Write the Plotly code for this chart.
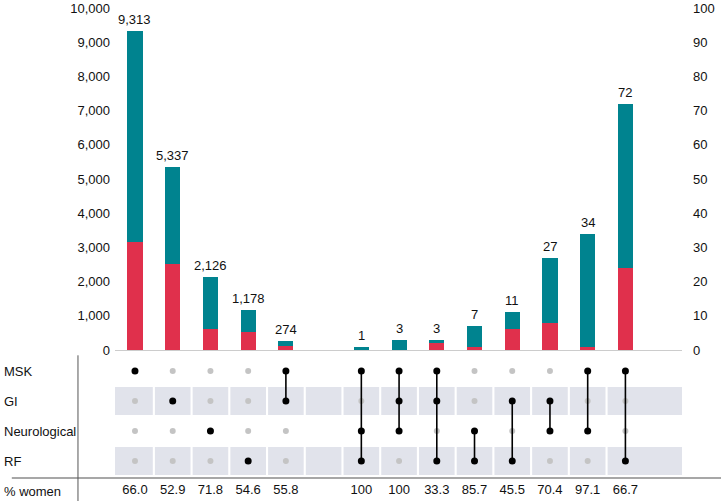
import plotly.graph_objects as go

# ---------------- data ----------------
sets = ["MSK", "GI", "Neurological", "RF"]
combos = [
    ["MSK"],
    ["GI"],
    ["Neurological"],
    ["RF"],
    ["MSK", "GI"],
    ["MSK", "Neurological", "RF"],
    ["MSK", "GI", "Neurological"],
    ["MSK", "GI", "RF"],
    ["Neurological", "RF"],
    ["GI", "RF"],
    ["GI", "Neurological"],
    ["MSK", "Neurological"],
    ["MSK", "RF"],
]
totals = [9313, 5337, 2126, 1178, 274, 1, 3, 3, 7, 11, 27, 34, 72]
women = [6147, 2823, 1526, 643, 153, 1, 3, 1, 6, 5, 19, 33, 48]
men = [3166, 2514, 600, 535, 121, 0, 0, 2, 1, 6, 8, 1, 24]
pct_women = ["66.0", "52.9", "71.8", "54.6", "55.8", "100", "100",
             "33.3", "85.7", "45.5", "70.4", "97.1", "66.7"]
left_ticks = [0, 1000, 2000, 3000, 4000, 5000, 6000, 7000, 8000, 9000, 10000]
right_ticks = [0, 10, 20, 30, 40, 50, 60, 70, 80, 90, 100]
n_left = 5  # first combos plotted against left axis

# ---------------- layout helpers ----------------
slots = list(range(n_left)) + [i + 1 for i in range(n_left, len(combos))]
n_slots = slots[-1] + 1
XMIN, XMAX = -0.53, 14.5
RED = "#e0304c"
TEAL = "#00838f"
FONT = "Liberation Sans, Arial, Helvetica, sans-serif"
TXT = "#111111"
row_y = {"MSK": 3, "GI": 2, "Neurological": 1, "RF": 0}

fig = go.Figure()

xl, xr = slots[:n_left], slots[n_left:]
fig.add_trace(go.Bar(x=xl, y=men[:n_left], marker_color=RED, width=0.4,
                     marker_line_width=0, yaxis="y", showlegend=False, hoverinfo="skip"))
fig.add_trace(go.Bar(x=xl, y=women[:n_left], marker_color=TEAL, width=0.4,
                     marker_line_width=0, yaxis="y", showlegend=False, hoverinfo="skip"))
fig.add_trace(go.Bar(x=xr, y=men[n_left:], marker_color=RED, width=0.4,
                     marker_line_width=0, yaxis="y2", showlegend=False, hoverinfo="skip"))
fig.add_trace(go.Bar(x=xr, y=women[n_left:], marker_color=TEAL, width=0.4,
                     marker_line_width=0, yaxis="y2", showlegend=False, hoverinfo="skip"))

annotations = []
# total labels above bars
for i, (s, t) in enumerate(zip(slots, totals)):
    annotations.append(dict(xref="x", yref="y" if i < n_left else "y2", x=s, y=t,
                            text=f"{t:,}", showarrow=False, yanchor="bottom",
                            yshift=2, font=dict(size=13, color=TXT)))

# matrix
gx, gy, bx, by, lx, ly = [], [], [], [], [], []
for s, combo in zip(slots, combos):
    ys = []
    for st in sets:
        if st in combo:
            bx.append(s); by.append(row_y[st]); ys.append(row_y[st])
        else:
            gx.append(s); gy.append(row_y[st])
    if len(ys) > 1:
        lx += [s, s, None]
        ly += [min(ys), max(ys), None]

fig.add_trace(go.Scatter(x=gx, y=gy, mode="markers", yaxis="y3",
                         marker=dict(size=6, color="#c4c4c4"),
                         showlegend=False, hoverinfo="skip"))
fig.add_trace(go.Scatter(x=lx, y=ly, mode="lines", yaxis="y3",
                         line=dict(color="black", width=1.6),
                         showlegend=False, hoverinfo="skip"))
fig.add_trace(go.Scatter(x=bx, y=by, mode="markers", yaxis="y3",
                         marker=dict(size=7, color="black"),
                         showlegend=False, hoverinfo="skip"))

# % women row
fig.add_trace(go.Scatter(x=slots, y=[-1] * len(slots), mode="text", text=pct_women,
                         yaxis="y3", textfont=dict(size=13, color=TXT),
                         showlegend=False, hoverinfo="skip", cliponaxis=False))

# gray bands (GI and RF rows)
shapes = []
gap = 0.028
for row in ["GI", "RF"]:
    yc = row_y[row]
    for s in range(n_slots):
        x0 = XMIN if s == 0 else s - 0.5 + gap
        x1 = XMAX if s == n_slots - 1 else s + 0.5 - gap
        shapes.append(dict(type="rect", xref="x", yref="y3", x0=x0, x1=x1,
                           y0=yc - 0.47, y1=yc + 0.47, fillcolor="#e1e3eb",
                           line=dict(width=0), layer="below"))
# separator lines
shapes.append(dict(type="line", xref="paper", yref="y3", x0=-0.182, x1=1.07,
                   y0=-0.57, y1=-0.57, line=dict(color="#8a8a8a", width=1.5)))
shapes.append(dict(type="line", xref="paper", yref="paper", x0=-0.0653, x1=-0.0653,
                   y0=0.0, y1=0.2955, line=dict(color="#555555", width=1)))

for st in sets:
    annotations.append(dict(xref="paper", yref="y3", x=-0.1993, y=row_y[st], text=st,
                            showarrow=False, xanchor="left", yanchor="middle",
                            font=dict(size=13, color=TXT)))
annotations.append(dict(xref="paper", yref="y3", x=-0.1993, y=-1, text="% women",
                        showarrow=False, xanchor="left", yanchor="middle",
                        font=dict(size=13, color=TXT)))

fig.update_layout(
    width=721, height=501,
    margin=dict(l=115, r=39, t=8, b=0, autoexpand=False),
    paper_bgcolor="white", plot_bgcolor="white",
    font=dict(family=FONT, size=13, color=TXT),
    barmode="stack",
    bargap=0,
    xaxis=dict(range=[XMIN, XMAX], showticklabels=False, showgrid=False,
               zeroline=False, showline=True, linecolor="#cccccc", linewidth=1,
               anchor="y", ticks="", automargin=False),
    yaxis=dict(domain=[0.3063, 1], range=[0, 10000], tickvals=left_ticks,
               tickformat=",", showgrid=False, zeroline=False, showline=False,
               ticks="", ticklabelstandoff=4, automargin=False),
    yaxis2=dict(overlaying="y", side="right", range=[0, 100], tickvals=right_ticks,
                showgrid=False, zeroline=False, showline=False, ticks="",
                anchor="x", ticklabelstandoff=10, automargin=False),
    yaxis3=dict(domain=[0, 0.2941], range=[-1.333, 3.5], visible=False,
                anchor="x", automargin=False),
    shapes=shapes,
    annotations=annotations,
)

fig.write_html("out.html", config={"displayModeBar": False},
               post_script="document.body.style.margin='0';document.body.style.padding='0';")
